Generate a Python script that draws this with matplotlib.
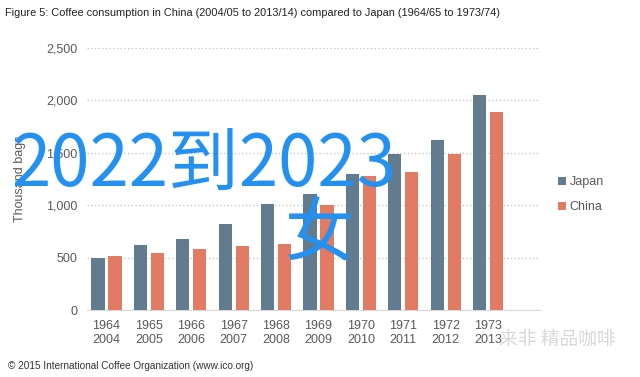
import matplotlib.pyplot as plt
import numpy as np

plt.rcParams['font.family'] = ['Liberation Sans', 'DejaVu Sans']

# data
japan_years = ['1964', '1965', '1966', '1967', '1968', '1969', '1970', '1971', '1972', '1973']
china_years = ['2004', '2005', '2006', '2007', '2008', '2009', '2010', '2011', '2012', '2013']
japan = [500, 620, 680, 823, 1008, 1104, 1300, 1489, 1622, 2052]
china = [515, 547, 579, 610, 627, 999, 1280, 1314, 1489, 1886]

c_japan = '#627b8f'
c_china = '#e27b63'
gray = '#595959'

fig = plt.figure(figsize=(6.4, 3.77), dpi=100)
ax = fig.add_axes([0.136, 0.1777, 0.708, 0.695])

x = np.arange(len(japan))
w = 0.31
ax.bar(x - 0.2, japan, w, color=c_japan, label='Japan', zorder=3)
ax.bar(x + 0.2, china, w, color=c_china, label='China', zorder=3)

ax.set_xlim(-0.46, 10.23)
ax.set_ylim(0, 2500)
ax.set_yticks(np.arange(0, 2501, 500))
ax.set_yticklabels(['0', '500', '1,000', '1,500', '2,000', '2,500'])
ax.set_xticks(x)
ax.set_xticklabels([a + '\n' + b for a, b in zip(japan_years, china_years)])
ax.tick_params(length=0, labelsize=9, labelcolor=gray, pad=7)
ax.yaxis.grid(True, ls=':', color='#c8c8c8', lw=1, zorder=0)
for s in ['top', 'right', 'left']:
    ax.spines[s].set_visible(False)
ax.spines['bottom'].set_color('#d9d9d9')
ax.set_ylabel('Thousand bags', fontsize=9, color=gray, labelpad=14)

leg = ax.legend(loc='center left', bbox_to_anchor=(1.015, 0.44), frameon=False,
                fontsize=9, handlelength=0.6, handleheight=0.6, handletextpad=0.3,
                labelspacing=1.0)
for t in leg.get_texts():
    t.set_color(gray)

fig.text(0.008, 0.965, 'Figure 5: Coffee consumption in China (2004/05 to 2013/14) compared to Japan (1964/65 to 1973/74)',
         fontsize=7.9, color='#222222', va='center')
fig.text(0.012, 0.03, '\u00a9 2015 International Coffee Organization (www.ico.org)',
         fontsize=7.2, color='#333333', va='center')

# overlay text
fig.text(0.018, 0.56, '2022到2023', fontsize=51, color='#2490f0', va='center',
         fontweight='medium', family=['Noto Sans CJK SC', 'DejaVu Sans'])
fig.text(0.445, 0.375, '女', fontsize=50, color='#2490f0', va='center',
         fontweight='medium', family=['Noto Sans CJK SC', 'DejaVu Sans'])
fig.text(0.78, 0.10, '来非 精品咖啡', fontsize=13.5, color='#d8d8d8', va='center',
         family=['Noto Sans CJK SC', 'DejaVu Sans'])

fig.savefig('out.png', dpi=100, facecolor='white')
